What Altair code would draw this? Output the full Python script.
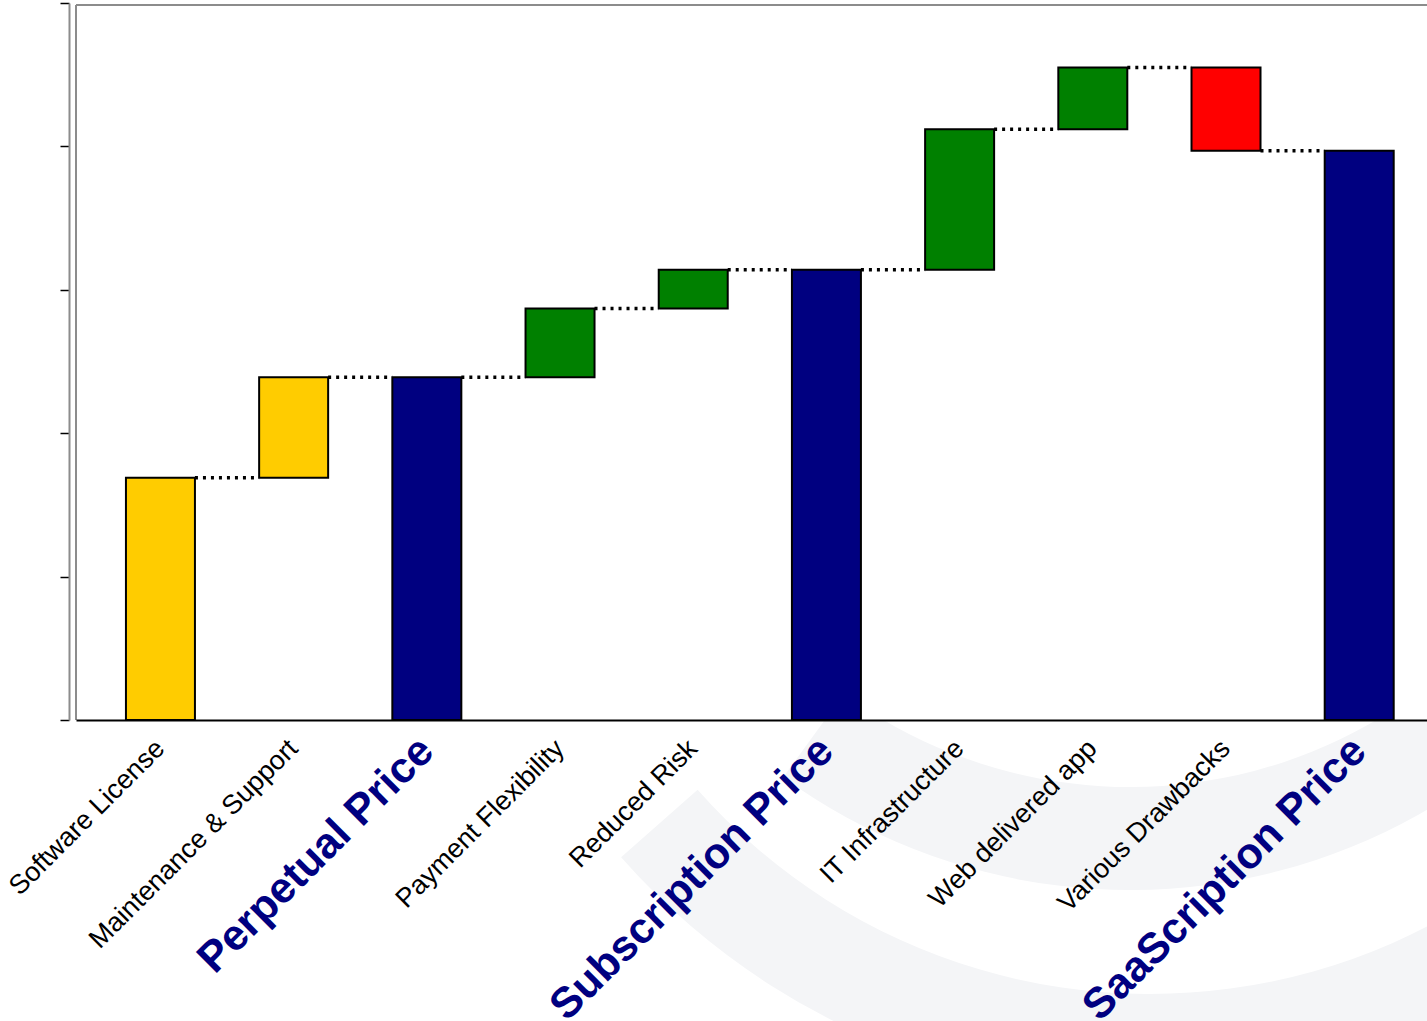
import altair as alt
import pandas as pd

categories = ["Software License", "Maintenance & Support", "Perpetual Price",
              "Payment Flexibility", "Reduced Risk", "Subscription Price",
              "IT Infrastructure", "Web delivered app", "Various Drawbacks",
              "SaaScription Price"]
# change per step; None marks a running-total bar
deltas = [1.69, 0.70, None, 0.48, 0.27, None, 0.98, 0.43, -0.58, None]
kinds = ["base", "base", "total", "gain", "gain", "total", "gain", "gain", "loss", "total"]
totals = ["Perpetual Price", "Subscription Price", "SaaScription Price"]

kind_domain = ["base", "total", "gain", "loss"]
kind_colors = ["#FFCC00", "#000080", "#008000", "#FF0000"]

rows = []
level = 0.0
for cat, d, k in zip(categories, deltas, kinds):
    if d is None:
        rows.append({"cat": cat, "start": 0.0, "end": level, "kind": k})
    else:
        rows.append({"cat": cat, "start": level, "end": level + d, "kind": k})
        level = level + d
bars = pd.DataFrame(rows)

conn = pd.DataFrame({
    "cat": categories[:-1],
    "next": categories[1:],
    "level": [r["end"] for r in rows[:-1]],
})

W, H = 1351, 717

xscale = alt.Scale(domain=categories, paddingInner=0.482, paddingOuter=0.3125, align=0.6)
yscale = alt.Scale(domain=[0, 5], nice=False, zero=False)

is_total = "indexof(" + str(totals) + ", datum.value) >= 0"

xaxis = alt.Axis(
    title=None, labelAngle=-45, labelAlign="right", labelBaseline="middle",
    ticks=False, domain=True, domainColor="#000000", domainWidth=2,
    labelPadding=24, labelLimit=0, labelFont="Liberation Sans",
    labelFontSize={"condition": {"test": is_total, "value": 43}, "value": 27},
    labelFontWeight={"condition": {"test": is_total, "value": "bold"}, "value": "normal"},
    labelColor={"condition": {"test": is_total, "value": "#000080"}, "value": "#000000"},
    grid=False, zindex=2,
)
yaxis = alt.Axis(
    title=None, labels=False, values=[0, 1, 2, 3, 4, 5], tickSize=9,
    tickColor="#000000", tickWidth=1.5, domainColor="#8c8c8c", domainWidth=2,
    offset=7, grid=False, zindex=2,
)

one = pd.DataFrame({"k": [0]})
WM = "#F4F5F7"
# faint background watermark (two arc bands)
wm_a = alt.Chart(one).mark_arc(
    color=WM, theta=1.745, theta2=3.77, radius=487, radius2=590
).encode(x=alt.value(1054), y=alt.value(297))
wm_b = alt.Chart(one).mark_arc(
    color=WM, theta=1.745, theta2=3.99, radius=603, radius2=705
).encode(x=alt.value(1074), y=alt.value(388))
plot_bg = alt.Chart(one).mark_rect(color="#ffffff").encode(
    x=alt.value(0), x2=alt.value(W), y=alt.value(0), y2=alt.value(H)
)

bar_layer = alt.Chart(bars).mark_bar(stroke="#000000", strokeWidth=2).encode(
    x=alt.X("cat:N", scale=xscale, axis=xaxis, sort=categories),
    y=alt.Y("start:Q", scale=yscale, axis=yaxis),
    y2="end:Q",
    color=alt.Color("kind:N", scale=alt.Scale(domain=kind_domain, range=kind_colors), legend=None),
)

conn_layer = alt.Chart(conn).mark_rule(
    color="#000000", strokeWidth=3.5, strokeDash=[3, 5], strokeCap="butt"
).encode(
    x=alt.X("cat:N", scale=xscale, bandPosition=1, sort=categories),
    x2=alt.X2("next:N", bandPosition=0),
    y=alt.Y("level:Q", scale=yscale),
)

frame_left = alt.Chart(one).mark_rule(color="#8c8c8c", strokeWidth=2).encode(
    x=alt.value(0), y=alt.value(2), y2=alt.value(H)
)
frame_top = alt.Chart(one).mark_rule(color="#8c8c8c", strokeWidth=2).encode(
    x=alt.value(0), x2=alt.value(W), y=alt.value(2)
)

chart = alt.layer(wm_a, wm_b, plot_bg, frame_left, frame_top, bar_layer, conn_layer).properties(
    width=W, height=H,
    autosize=alt.AutoSizeParams(type="none"),
    padding={"left": 76, "top": 3, "right": 0, "bottom": 301},
    background="#ffffff",
).configure_view(stroke=None)

chart.save("out.html", embed_options={"renderer": "svg", "actions": False})
